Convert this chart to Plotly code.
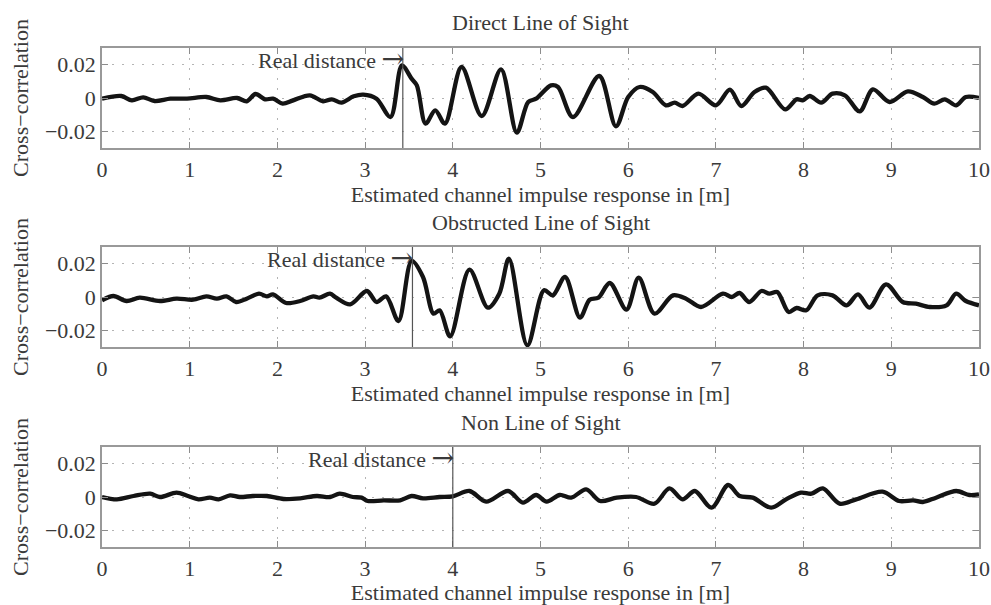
import plotly.graph_objects as go

# ---------------- data ----------------
titles = ["Direct Line of Sight", "Obstructed Line of Sight", "Non Line of Sight"]
real_distance = [3.43, 3.54, 4.0]

los_x = [0.0, 0.22, 0.34, 0.47, 0.60, 0.78, 0.97, 1.19, 1.35, 1.54, 1.65, 1.75, 1.86, 1.95,
         2.06, 2.18, 2.37, 2.52, 2.62, 2.73, 2.87, 2.98, 3.13, 3.29, 3.42, 3.53, 3.59, 3.69,
         3.80, 3.91, 4.10, 4.33, 4.55, 4.73, 4.86, 4.95, 5.12, 5.20, 5.37, 5.67, 5.86, 6.0,
         6.13, 6.28, 6.43, 6.53, 6.62, 6.80, 7.0, 7.16, 7.29, 7.44, 7.57, 7.79, 7.92, 7.99,
         8.07, 8.20, 8.33, 8.47, 8.64, 8.79, 8.98, 9.19, 9.36, 9.49, 9.61, 9.74, 9.85, 10.0]
los_y = [-0.0004, 0.0012, -0.0014, 0.0004, -0.0018, -0.0004, -0.0004, 0.0006, -0.0014, 0.0,
         -0.002, 0.0024, -0.0008, -0.0004, -0.0034, -0.0014, 0.0016, -0.002, -0.0008, -0.0028,
         0.001, 0.002, -0.0004, -0.0114, 0.0196, 0.0116, 0.0076, -0.0154, -0.0074, -0.0154,
         0.0186, -0.0108, 0.0172, -0.0208, -0.0024, -0.0004, 0.0076, 0.0066, -0.0114, 0.0132,
         -0.017, 0.0006, 0.0066, 0.0036, -0.0044, -0.0028, -0.0048, 0.0026, -0.0044, 0.005,
         -0.0048, 0.0036, 0.0062, -0.0068, -0.0008, -0.0014, 0.0012, -0.0028, 0.0026, 0.0016,
         -0.008, 0.0052, -0.0024, 0.004, 0.0006, -0.0034, -0.0008, -0.0044, 0.0006, 0.0]

olos_x = [0.0, 0.13, 0.28, 0.43, 0.66, 0.85, 1.04, 1.19, 1.31, 1.42, 1.53, 1.65, 1.79, 1.88,
          1.95, 2.10, 2.26, 2.41, 2.48, 2.60, 2.67, 2.83, 3.02, 3.13, 3.24, 3.38, 3.53, 3.66,
          3.78, 3.85, 3.97, 4.19, 4.40, 4.53, 4.64, 4.85, 5.04, 5.14, 5.28, 5.45, 5.56, 5.66,
          5.79, 5.98, 6.12, 6.30, 6.51, 6.66, 6.83, 7.08, 7.18, 7.27, 7.38, 7.52, 7.61, 7.70,
          7.83, 7.92, 8.03, 8.16, 8.33, 8.49, 8.62, 8.75, 8.94, 9.13, 9.28, 9.44, 9.63, 9.74,
          9.85, 10.0]
olos_y = [-0.002, 0.0006, -0.0024, -0.0004, -0.0024, -0.001, -0.0016, 0.0004, -0.001, 0.0004,
          -0.003, -0.001, 0.002, 0.0004, 0.0016, -0.0036, -0.0024, 0.0004, -0.0004, 0.002,
          -0.0004, -0.0044, 0.0036, -0.003, 0.0004, -0.0144, 0.0216, 0.012, -0.01, -0.008,
          -0.0236, 0.0164, -0.0064, 0.002, 0.023, -0.029, 0.004, 0.001, 0.012, -0.0124,
          -0.0016, -0.0004, 0.0084, -0.0076, 0.0116, -0.01, 0.001, -0.001, -0.006, 0.002,
          0.0, 0.0024, -0.003, 0.0036, 0.002, 0.003, -0.009, -0.0066, -0.008, 0.001, 0.001,
          -0.005, 0.0016, -0.0064, 0.0076, -0.003, -0.004, -0.006, -0.005, 0.002, -0.0024,
          -0.005]

nlos_x = [0.0, 0.17, 0.36, 0.55, 0.66, 0.85, 0.98, 1.10, 1.23, 1.33, 1.46, 1.57, 1.72, 1.88,
          2.07, 2.26, 2.45, 2.60, 2.71, 2.86, 2.96, 3.03, 3.21, 3.40, 3.53, 3.66, 3.85, 4.00,
          4.19, 4.38, 4.63, 4.80, 4.95, 5.07, 5.22, 5.35, 5.52, 5.68, 5.87, 6.09, 6.30, 6.47,
          6.62, 6.76, 6.95, 7.14, 7.27, 7.42, 7.63, 7.80, 7.97, 8.09, 8.22, 8.41, 8.60, 8.90,
          9.09, 9.25, 9.36, 9.51, 9.74, 9.89, 10.0]
nlos_y = [0.0, -0.0014, 0.0006, 0.002, 0.0, 0.0026, 0.0006, -0.0014, -0.0004, -0.0014, 0.001,
          0.0, 0.0006, 0.0006, -0.0012, -0.0008, 0.0006, 0.0, 0.002, 0.0, -0.0004, -0.0024,
          -0.002, -0.002, 0.0006, -0.0008, 0.0, 0.0004, 0.0036, -0.0028, 0.0036, -0.0034,
          0.0012, -0.0028, 0.0012, -0.0004, 0.0046, -0.0024, -0.0004, 0.0, -0.004, 0.0052,
          -0.0014, 0.0036, -0.0064, 0.0072, 0.0006, -0.0004, -0.0064, -0.0014, 0.0026, 0.002,
          0.0052, -0.004, -0.0014, 0.0032, -0.0024, -0.002, -0.003, -0.0004, 0.0036, 0.0012,
          0.0016]

xs = [los_x, olos_x, nlos_x]
ys = [los_y, olos_y, nlos_y]

x_ticks = list(range(0, 11))
y_ticks = [-0.02, 0, 0.02]
y_ticktext = ["\u22120.02", "0", "0.02"]
x_title = "Estimated channel impulse response in [m]"
y_title = "Cross\u2212correlation"
marker_text = "Real distance <span style='font-family:DejaVu Serif;font-size:27px'>\u2192</span>"

# ---------------- layout ----------------
H = 605
panel_px = [(48, 148), (247, 347), (447, 547)]  # top/bottom of each plot box
title_px = [22, 223, 422]
FONT = "Liberation Serif, Times New Roman, serif"
TXT = "#3a3a3a"

fig = go.Figure()
layout = dict(
    width=991, height=H,
    margin=dict(l=102, r=12, t=0, b=0),
    paper_bgcolor="white", plot_bgcolor="white",
    showlegend=False,
    font=dict(family=FONT, size=22, color=TXT),
    annotations=[], shapes=[],
)

for i in range(3):
    n = "" if i == 0 else str(i + 1)
    xa, ya = "x" + n, "y" + n
    top, bot = panel_px[i]
    fig.add_trace(go.Scatter(
        x=xs[i], y=ys[i], mode="lines", xaxis=xa, yaxis=ya,
        line=dict(color="#141414", width=4.3, shape="spline", smoothing=0.9),
        hoverinfo="skip"))
    common = dict(showline=True, linecolor="#999999", linewidth=1.5, mirror="ticks",
                  ticks="inside", ticklen=6, tickcolor="#8c8c8c", tickwidth=1.2,
                  showgrid=True, gridcolor="#b4b4b4", griddash="2px,8px", gridwidth=1.3,
                  zeroline=False, automargin=False,
                  tickfont=dict(family=FONT, size=22, color=TXT))
    layout["xaxis" + n] = dict(common, domain=[0, 1], anchor=ya, range=[0, 10],
                               tickvals=x_ticks, ticklabelstandoff=1,
                               title=dict(text=x_title, standoff=2,
                                          font=dict(family=FONT, size=22, color=TXT)))
    layout["yaxis" + n] = dict(common, domain=[1 - bot / H, 1 - top / H], anchor=xa,
                               range=[-0.03, 0.03], tickvals=y_ticks, ticktext=y_ticktext,
                               title=dict(text=y_title, standoff=10,
                                          font=dict(family=FONT, size=22, color=TXT)))
    layout["annotations"].append(dict(
        text=titles[i], xref="paper", yref="paper", x=0.5, y=1 - title_px[i] / H,
        xanchor="center", yanchor="middle", showarrow=False,
        font=dict(family=FONT, size=22, color=TXT)))
    layout["annotations"].append(dict(
        text=marker_text, xref=xa, yref=ya, x=real_distance[i], y=0.024,
        xanchor="right", yanchor="middle", showarrow=False, xshift=3,
        font=dict(family=FONT, size=22, color=TXT)))
    layout["shapes"].append(dict(
        type="line", xref=xa, yref=ya + " domain", x0=real_distance[i], x1=real_distance[i],
        y0=0, y1=1, line=dict(color="#555555", width=1.2)))

fig.update_layout(**layout)
fig.write_html("out.html")
